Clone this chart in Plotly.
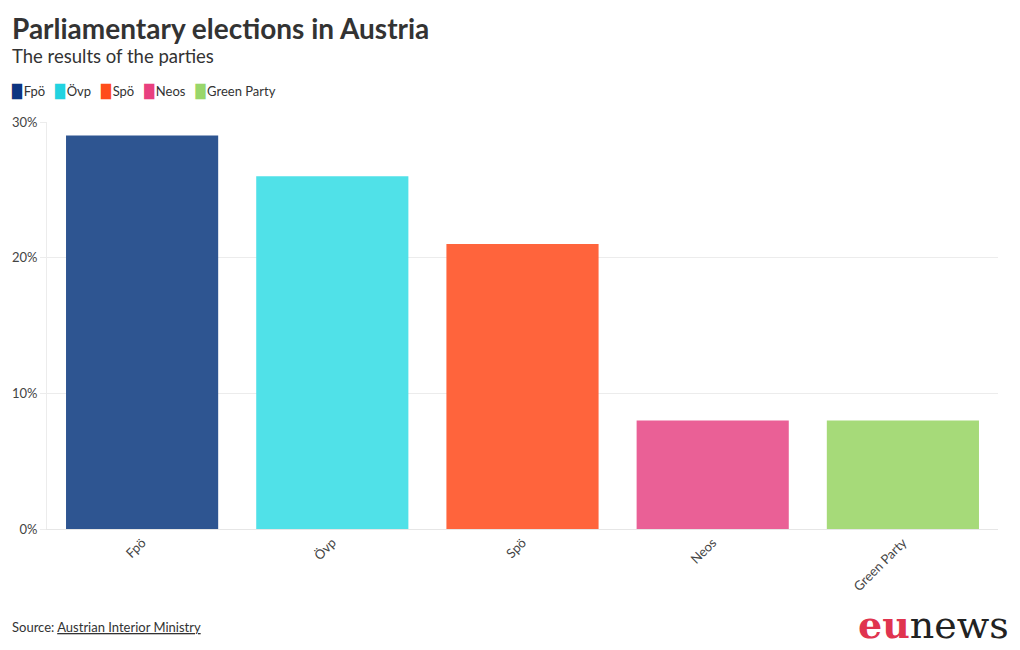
import plotly.graph_objects as go

parties = ["Fpö", "Övp", "Spö", "Neos", "Green Party"]
results = [29, 26, 21, 8, 8]
colors = ["#2e5591", "#50e1e8", "#ff643c", "#ea6096", "#a6da79"]
legend_colors = ["#0d3580", "#22d3e0", "#ff4d1a", "#e8407f", "#99d66b"]
y_ticks = [0, 10, 20, 30]
y_tick_labels = ["0%", "10%", "20%", "30%"]

# page body has an 8px margin; work in reference pixel coordinates shifted by O
O = 8
W, H = 1020 - O, 650 - O
L, R, T, B = 47 - O, W - (998 - O), 122 - O, H - (529 - O)

fig = go.Figure()
for p, v, c in zip(parties, results, colors):
    fig.add_trace(go.Bar(x=[p], y=[v], name=p, marker=dict(color=c, line=dict(width=0)),
                         showlegend=False,
                         hovertemplate="%{x}: %{y}%<extra></extra>"))

FONT = "Lato"
pw = W - L - R
ph = H - T - B

def px_x(x):
    return (x - O - L) / pw

def px_y(y):
    return (H - B - (y - O)) / ph

legend_text = "&nbsp;&nbsp;&nbsp;".join(
    f"<span style='color:{c};font-family:DejaVu Sans'>█</span>&#8201;{p}"
    for p, c in zip(parties, legend_colors))

fig.update_layout(
    width=W, height=H,
    margin=dict(l=L, r=R, t=T, b=B, autoexpand=False),
    paper_bgcolor="white", plot_bgcolor="white",
    font=dict(family=FONT, color="#444", size=12),
    barmode="group", bargap=0.2,
    showlegend=False,
    xaxis=dict(type="category", tickangle=-45, showgrid=False,
               showline=True, linecolor="#e6e6e6", ticks="",
               tickfont=dict(size=13, color="#444")),
    yaxis=dict(range=[0, 30], tickvals=y_ticks, ticktext=y_tick_labels,
               showgrid=True, gridcolor="#ececec", zeroline=False,
               showline=True, linecolor="#ececec",
               ticks="outside", ticklen=6, tickcolor="#ececec",
               tickfont=dict(size=13, color="#444")),
    annotations=[
        dict(text="<b>Parliamentary elections in Austria</b>", xref="paper", yref="paper",
             x=px_x(10), y=px_y(28), xanchor="left", yanchor="middle", showarrow=False,
             font=dict(size=28, color="#333", family=FONT)),
        dict(text="The results of the parties", xref="paper", yref="paper",
             x=px_x(10), y=px_y(56), xanchor="left", yanchor="middle", showarrow=False,
             font=dict(size=18.5, color="#333", family=FONT)),
        dict(text=legend_text, xref="paper", yref="paper",
             x=px_x(9), y=px_y(91), xanchor="left", yanchor="middle", showarrow=False,
             font=dict(size=13, color="#333", family=FONT)),
        dict(text="Source: <u>Austrian Interior Ministry</u>", xref="paper", yref="paper",
             x=px_x(10), y=px_y(627), xanchor="left", yanchor="middle", showarrow=False,
             font=dict(size=13, color="#333", family=FONT)),
        dict(text="<b><span style='color:#e0344f'>eu</span></b>news", xref="paper", yref="paper",
             x=px_x(1011), y=px_y(624), xanchor="right", yanchor="middle", showarrow=False,
             font=dict(size=38, color="#222", family="DejaVu Serif")),
    ],
)

fig.write_html("out.html")
